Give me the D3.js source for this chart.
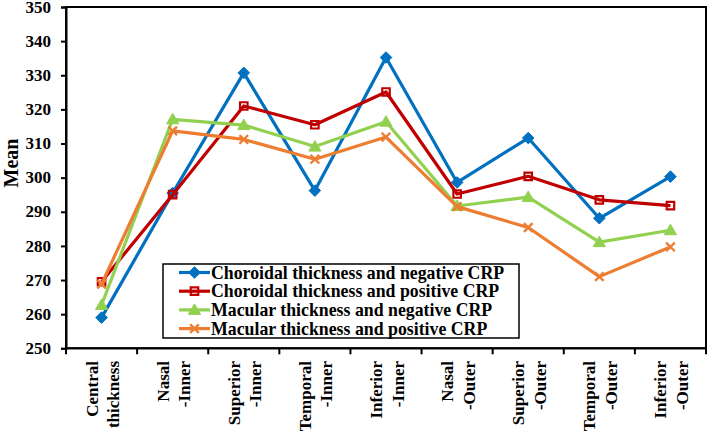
<!DOCTYPE html>
<html>
<head>
<meta charset="utf-8">
<script src="https://cdn.jsdelivr.net/npm/d3@7"></script>
<style>
  html, body { margin: 0; padding: 0; background: #fff; }
  svg { display: block; }
  text { font-family: "Liberation Serif", "Times New Roman", serif; font-weight: bold; fill: #000; }
</style>
</head>
<body>
<svg id="chart" width="708" height="435"></svg>
<script>
// ---- data ----
const categories = [
  ["Central", "thickness"],
  ["Nasal", "-Inner"],
  ["Superior", "-Inner"],
  ["Temporal", "-Inner"],
  ["Inferior", "-Inner"],
  ["Nasal", "-Outer"],
  ["Superior", "-Outer"],
  ["Temporal", "-Outer"],
  ["Inferior", "-Outer"]
];
const seriesNames = [
  "Choroidal thickness and negative CRP",
  "Choroidal thickness and positive CRP",
  "Macular thickness and negative CRP",
  "Macular thickness and positive CRP"
];
const choroidalNeg = [259.0, 295.5, 330.7, 296.2, 335.2, 298.6, 311.6, 288.1, 300.3];
const choroidalPos = [269.5, 295.0, 321.0, 315.5, 325.1, 295.2, 300.4, 293.5, 291.8];
const macularNeg   = [262.7, 317.1, 315.4, 309.1, 316.4, 291.7, 294.3, 281.1, 284.6];
const macularPos   = [268.8, 313.7, 311.2, 305.4, 311.9, 291.5, 285.4, 271.0, 279.7];
const yTicks = [250, 260, 270, 280, 290, 300, 310, 320, 330, 340, 350];
const yLabel = "Mean";

// ---- styles ----
const colors = ["#0070C0", "#C00000", "#92D050", "#ED7D31"];
const markers = ["diamond", "square", "triangle", "x"];
const seriesValues = [choroidalNeg, choroidalPos, macularNeg, macularPos];

const svg = d3.select("#chart");
const pLeft = 66, pRight = 706, pTop = 7, pBottom = 348.3;

const x = d3.scaleBand().domain(d3.range(categories.length)).range([pLeft, pRight]).padding(0);
const y = d3.scaleLinear().domain([250, 350]).range([pBottom, pTop]);
const cx = i => x(i) + x.bandwidth() / 2;

// frame
svg.append("rect")
  .attr("x", pLeft).attr("y", pTop)
  .attr("width", pRight - pLeft).attr("height", pBottom - pTop)
  .attr("fill", "none").attr("stroke", "#000").attr("stroke-width", 2);

// y axis
const yAxis = svg.append("g").attr("transform", `translate(${pLeft},0)`)
  .call(d3.axisLeft(y).tickValues(yTicks).tickSize(5).tickPadding(10).tickFormat(d3.format("d")));
yAxis.select(".domain").attr("stroke-width", 2);
yAxis.selectAll(".tick line").attr("stroke-width", 2);
yAxis.selectAll(".tick text")
  .style("font-family", '"Liberation Serif", serif').style("font-weight", "bold")
  .style("font-size", "17px").attr("fill", "#000").attr("dy", "0.3em");

// x axis (ticks at band boundaries)
const xb = svg.append("g").attr("transform", `translate(0,${pBottom})`);
xb.append("line").attr("x1", pLeft).attr("x2", pRight).attr("y1", 0).attr("y2", 0)
  .attr("stroke", "#000").attr("stroke-width", 2);
const boundaries = d3.range(categories.length + 1).map(i => i < categories.length ? x(i) : pRight);
xb.selectAll("line.tk").data(boundaries).join("line").attr("class", "tk")
  .attr("x1", d => d).attr("x2", d => d).attr("y1", 0).attr("y2", 6)
  .attr("stroke", "#000").attr("stroke-width", 2);

// x labels rotated
categories.forEach((lines, i) => {
  const g = svg.append("g").attr("transform", `translate(${cx(i)},${361}) rotate(-90)`);
  lines.forEach((ln, j) => {
    g.append("text").attr("x", 0).attr("y", -4 + j * 21.5)
      .attr("text-anchor", "end").style("font-size", "17px").text(ln);
  });
});

// y label
svg.append("text")
  .attr("transform", `translate(17.5,163) rotate(-90)`)
  .attr("text-anchor", "middle").style("font-size", "20px").text(yLabel);

// marker drawing
const diamondPath = d3.path();
diamondPath.moveTo(0, -5.8); diamondPath.lineTo(5.8, 0); diamondPath.lineTo(0, 5.8); diamondPath.lineTo(-5.8, 0); diamondPath.closePath();
function drawMarker(sel, type, color) {
  if (type === "diamond") {
    sel.append("path").attr("d", diamondPath.toString())
      .attr("fill", color).attr("stroke", color).attr("stroke-width", 1);
  } else if (type === "square") {
    sel.append("path").attr("d", d3.symbol(d3.symbolSquare, 56)())
      .attr("fill", "none").attr("stroke", color).attr("stroke-width", 2.2);
  } else if (type === "triangle") {
    sel.append("path").attr("d", d3.symbol(d3.symbolTriangle, 64)())
      .attr("transform", "translate(0,1)")
      .attr("fill", color).attr("stroke", color).attr("stroke-width", 1);
  } else {
    sel.append("path").attr("d", d3.symbol(d3.symbolX, 50)())
      .attr("fill", "none").attr("stroke", color).attr("stroke-width", 2.4);
  }
}

const line = d3.line().x((d, i) => cx(i)).y(d => y(d));

seriesValues.forEach((vals, s) => {
  const g = svg.append("g");
  g.append("path").datum(vals).attr("d", line)
    .attr("fill", "none").attr("stroke", colors[s]).attr("stroke-width", 3.2)
    .attr("stroke-linejoin", "round");
  vals.forEach((v, i) => {
    const m = g.append("g").attr("transform", `translate(${cx(i)},${y(v)})`);
    drawMarker(m, markers[s], colors[s]);
  });
});

// legend
const lg = svg.append("g");
lg.append("rect").attr("x", 163).attr("y", 264).attr("width", 356).attr("height", 74)
  .attr("fill", "#fff").attr("stroke", "#000").attr("stroke-width", 1.5);
seriesNames.forEach((name, s) => {
  const yy = 272.5 + s * 18.7;
  lg.append("line").attr("x1", 179).attr("x2", 210).attr("y1", yy).attr("y2", yy)
    .attr("stroke", colors[s]).attr("stroke-width", 3.2);
  const m = lg.append("g").attr("transform", `translate(194.5,${yy})`);
  drawMarker(m, markers[s], colors[s]);
  lg.append("text").attr("x", 211).attr("y", yy).attr("dy", "0.35em")
    .style("font-size", "17.8px").text(name);
});
</script>
</body>
</html>
